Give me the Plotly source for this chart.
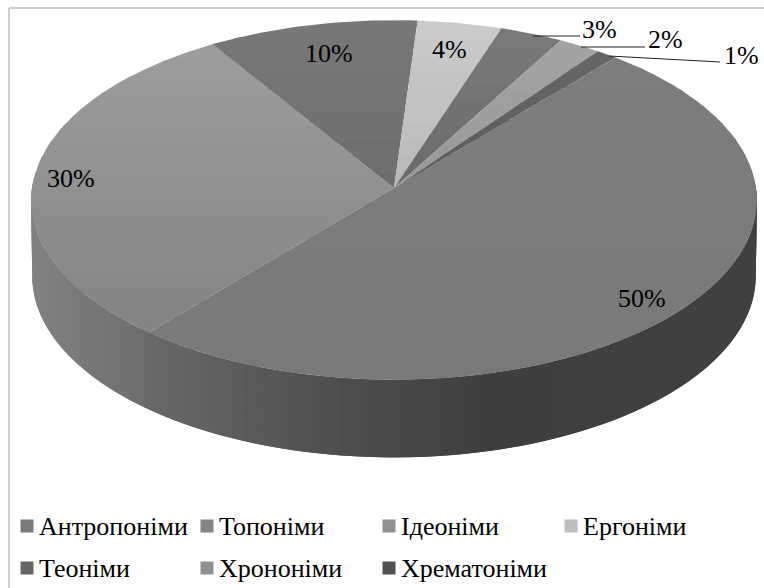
import numpy as np
import plotly.graph_objects as go

categories = ["Антропоніми", "Топоніми", "Ідеоніми", "Ергоніми", "Теоніми", "Хрононіми", "Хрематоніми"]
values = [50, 30, 10, 4, 3, 2, 1]
start_angle = 40.0

# style tables
face_grays = [(0x7d, 0x79), (0x9d, 0x84), (0x78, 0x6e), (0xcb, 0xb8), (0x7a, 0x6a), (0xa4, 0x98), (0x66, 0x5c)]
swatch_grays = [0x7a, 0x85, 0x90, 0xbe, 0x66, 0x90, 0x50]
wall_x = [33, 148, 149, 380, 500, 757]
wall_gray = [0x82, 0x6e, 0x69, 0x4a, 0x3f, 0x41]
label_font = "Liberation Serif"

CX, CY, RX, RY, P = 394.0, 188.0, 362.0, 179.0, 0.0667
WALL_DY, WALL_RX, WALL_RY = 76.0, 361.0, 180.5


def gray(v):
    v = int(round(float(v)))
    return f"rgb({v},{v},{v})"


def rim(deg, cy=CY, rx=RX, ry=RY):
    a = np.radians(deg)
    u, v = np.sin(a), np.cos(a)
    w = 1 + P * v
    return CX + rx * u / w, cy - ry * v / w


def clip(poly, y0, keep_below):
    out = []
    n = len(poly)
    for i in range(n):
        a, b = poly[i], poly[(i + 1) % n]
        ina = a[1] >= y0 if keep_below else a[1] <= y0
        inb = b[1] >= y0 if keep_below else b[1] <= y0
        if ina:
            out.append(a)
        if ina != inb:
            t = (y0 - a[1]) / (b[1] - a[1])
            out.append((a[0] + t * (b[0] - a[0]), y0))
    return out


def poly_trace(poly, color, lw=0.0):
    xs = [p[0] for p in poly] + [poly[0][0]]
    ys = [p[1] for p in poly] + [poly[0][1]]
    return go.Scatter(x=xs, y=ys, mode="lines", fill="toself", fillcolor=color,
                      line=dict(color=color, width=lw), hoverinfo="skip", showlegend=False)


fig = go.Figure()

# wall: each strip runs on under the next one so no seams show
total = sum(values)
step = 1.5
for deg0 in np.arange(272.0 - step, 88.0 - step, -step):
    deg1 = deg0 + step + 1.5
    x0, y0 = rim(deg0)
    x1, y1 = rim(deg1)
    x2, y2 = rim(deg1, CY + WALL_DY, WALL_RX, WALL_RY)
    x3, y3 = rim(deg0, CY + WALL_DY, WALL_RX, WALL_RY)
    g = np.interp(rim(deg0 + step / 2)[0], wall_x, wall_gray)
    fig.add_trace(poly_trace([(x0, y0), (x1, y1), (x2, y2), (x3, y3)], gray(g)))

# top faces
angle = start_angle
for val, (g0, g1) in zip(values, face_grays):
    sweep = 360.0 * val / total
    degs = np.linspace(angle, angle + sweep, max(3, int(sweep * 1.5) + 2))
    poly = [(CX, CY)] + [rim(d) for d in degs]
    ymin = min(p[1] for p in poly)
    ymax = max(p[1] for p in poly)
    bands = max(1, int((ymax - ymin) / 16))
    edges = np.linspace(ymin, ymax, bands + 1)
    for i in range(bands - 1, -1, -1):
        # band extends below its edge, the band drawn after it covers the overlap
        part = clip(clip(poly, edges[i], True), min(edges[i + 1] + 2, ymax), False)
        if len(part) >= 3:
            fig.add_trace(poly_trace(part, gray(g0 + (g1 - g0) * (i + 0.5) / bands)))
    angle += sweep

# legend built from the categories
col_x = [27, 207, 389, 571]
row_y = [526, 568]
for i, (name, g) in enumerate(zip(categories, swatch_grays)):
    fig.add_trace(go.Scatter(
        x=[col_x[i % 4]], y=[row_y[i // 4]], mode="markers", name=name,
        marker=dict(symbol="square", size=13, color=gray(g)), hoverinfo="name", showlegend=False))
    fig.add_annotation(x=col_x[i % 4] + 10, y=row_y[i // 4], text=name, showarrow=False,
                       xanchor="left", yanchor="middle", xshift=0,
                       font=dict(family=label_font, size=26, color="#000000"))

# value labels
label_pos = [(642, 298), (71, 178), (329, 53), (449, 49), (599, 29), (665, 39), (741, 55)]
for val, (lx, ly) in zip(values, label_pos):
    fig.add_annotation(x=lx, y=ly, text=f"{val}%", showarrow=False,
                       font=dict(family=label_font, size=26, color="#000000"))

# leader lines for the three small slices
leaders = [((533, 36), (580, 36)), ((581, 47), (645, 47)), ((609, 56), (720, 62))]
for a, b in leaders:
    fig.add_shape(type="line", x0=a[0], y0=a[1], x1=b[0], y1=b[1], line=dict(color="#222222", width=1))

# frame
fig.add_shape(type="line", x0=9, y0=8, x1=764, y1=8, line=dict(color="#bcbcbc", width=1.5))
fig.add_shape(type="line", x0=9, y0=8, x1=9, y1=588, line=dict(color="#bcbcbc", width=1.5))

fig.update_layout(
    width=764, height=588, margin=dict(l=0, r=0, t=0, b=0),
    paper_bgcolor="white", plot_bgcolor="white", showlegend=False,
    xaxis=dict(range=[0, 764], visible=False, fixedrange=True),
    yaxis=dict(range=[588, 0], visible=False, fixedrange=True),
)
fig.write_html("out.html", config=dict(displayModeBar=False),
               post_script="document.body.style.margin='0';document.body.style.overflow='hidden';")
